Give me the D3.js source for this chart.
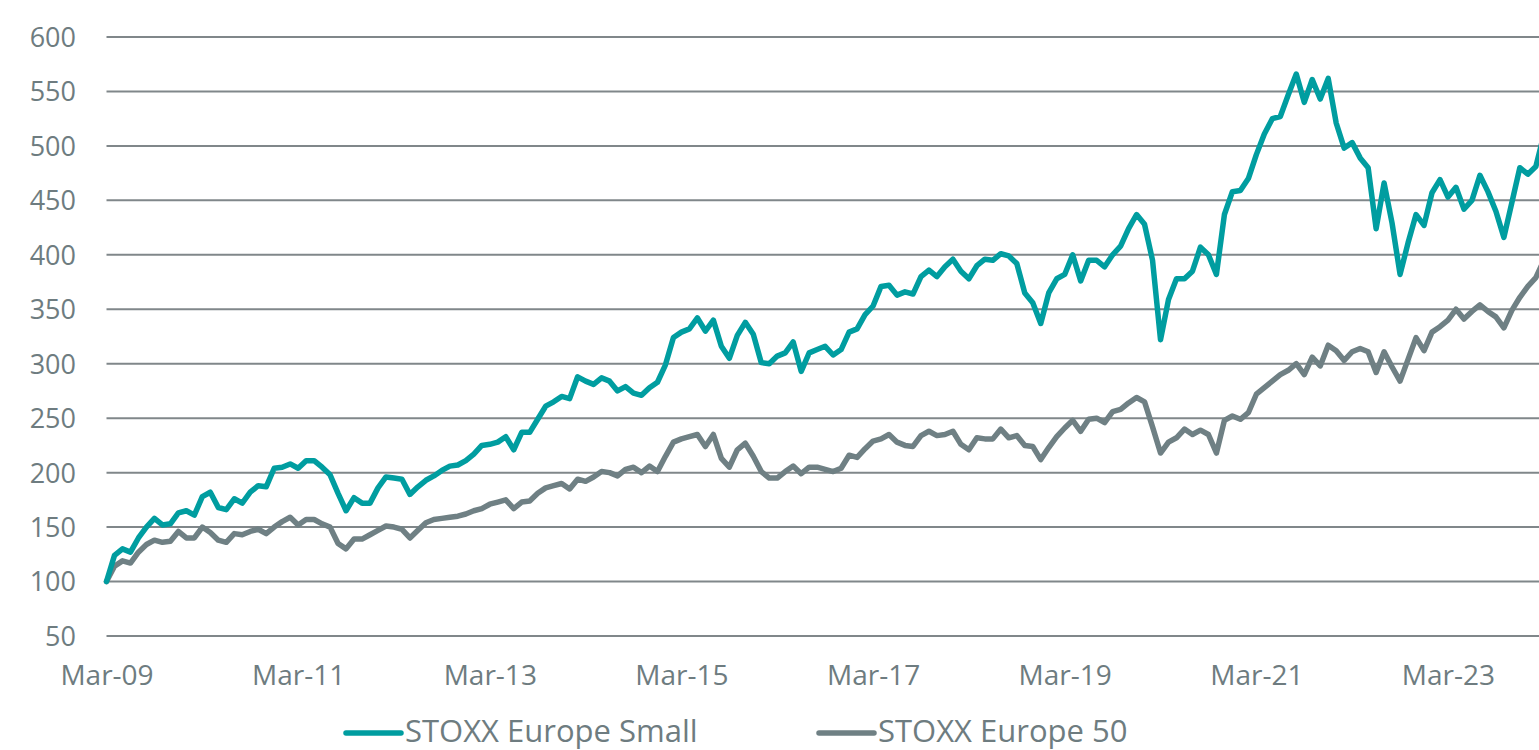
<!DOCTYPE html>
<html>
<head>
<meta charset="utf-8">
<script src="https://cdn.jsdelivr.net/npm/d3@7"></script>
<style>
  html, body { margin: 0; padding: 0; background: #ffffff; overflow: hidden; }
  svg { display: block; }
  text { font-family: "Open Sans", "Noto Sans", sans-serif; fill: #6E7C80; }
</style>
</head>
<body>
<svg id="chart" width="1539" height="750"></svg>
<script>
// ---- Data (monthly, Mar-09 onwards, rebased to 100) ----
const seriesNames = ["STOXX Europe Small", "STOXX Europe 50"];
const seriesColors = ["#009DA0", "#6F8084"];

const smallCap = [
  100,124,130,127,140,150,158,152,153,163,165,161,178,182,168,166,176,172,182,188,
  187,204,205,208,204,211,211,205,198,181,165,177,172,172,186,196,195,194,180,187,
  193,197,202,206,207,211,217,225,226,228,233,221,237,237,249,261,265,270,268,288,
  284,281,287,284,275,279,273,271,278,283,299,324,329,332,342,330,340,316,305,326,
  338,327,301,300,307,310,320,293,310,313,316,308,313,329,332,345,353,371,372,363,
  366,364,380,386,380,389,396,385,378,390,396,395,401,399,392,365,356,337,365,378,
  382,400,376,395,395,389,400,408,424,437,428,395,322,359,378,378,385,407,400,382,
  437,458,459,470,492,511,525,527,547,566,540,561,543,562,521,498,503,489,480,424,
  466,429,382,411,437,427,457,469,453,462,442,450,473,458,440,416,448,480,474,481,
  510
];

const europe50 = [
  100,114,119,117,127,134,138,136,137,146,140,140,150,145,138,136,144,143,146,148,
  144,150,155,159,152,157,157,153,150,135,130,139,139,143,147,151,150,148,140,147,
  154,157,158,159,160,162,165,167,171,173,175,167,173,174,181,186,188,190,185,194,
  192,196,201,200,197,203,205,200,206,201,215,228,231,233,235,224,235,213,205,221,
  227,215,201,195,195,201,206,199,205,205,203,201,204,216,214,222,229,231,235,228,
  225,224,234,238,234,235,238,226,221,232,231,231,240,232,234,225,224,212,223,233,
  241,248,238,249,250,246,256,258,264,269,265,242,218,228,232,240,235,239,235,218,
  248,252,249,255,272,278,284,290,294,300,290,306,298,317,312,303,311,314,311,292,
  311,297,284,304,324,312,329,334,340,350,341,348,354,348,343,333,349,361,371,379,
  395
];

const tickLabels = ["Mar-09","Mar-11","Mar-13","Mar-15","Mar-17","Mar-19","Mar-21","Mar-23"];
const yTicks = [50,100,150,200,250,300,350,400,450,500,550,600];

// categories: month labels starting Mar-09
const fmt = d3.timeFormat("%b-%y");
const categories = d3.range(smallCap.length).map(i => fmt(new Date(2009, 2 + i, 1)));

// ---- Layout ----
const svg = d3.select("#chart");
const plotLeft = 106.5, plotRight = 1539, monthStep = 7.985;
const x = d3.scalePoint()
  .domain(categories)
  .range([plotLeft, plotLeft + monthStep * (categories.length - 1)]);
const y = d3.scaleLinear().domain([50, 600]).range([636, 37]);

// gridlines
svg.append("g")
  .selectAll("line")
  .data(yTicks)
  .join("line")
  .attr("x1", plotLeft)
  .attr("x2", plotRight)
  .attr("y1", d => y(d))
  .attr("y2", d => y(d))
  .attr("stroke", "#80878A")
  .attr("stroke-width", 2);

// y axis labels
const yAxis = d3.axisLeft(y).tickValues(yTicks).tickSize(0).tickPadding(0);
const gy = svg.append("g").attr("transform", "translate(76,0)").call(yAxis);
gy.select(".domain").remove();
gy.selectAll("text")
  .attr("font-size", 27)
  .attr("dy", "0.35em")
  .attr("fill", "#6E7C80")
  .style("font-family", "'Open Sans', sans-serif");

// x axis labels
const xAxis = d3.axisBottom(x).tickValues(tickLabels).tickSize(0).tickPadding(0);
const gx = svg.append("g").attr("transform", "translate(0,665)").call(xAxis);
gx.select(".domain").remove();
gx.selectAll("text")
  .attr("font-size", 28)
  .attr("dy", "0.72em")
  .attr("fill", "#6E7C80")
  .style("font-family", "'Open Sans', sans-serif");

// lines
const line = d3.line()
  .x((d, i) => x(categories[i]))
  .y(d => y(d));

[europe50, smallCap].forEach((s, k) => {
  const idx = k === 0 ? 1 : 0;
  svg.append("path")
    .datum(s)
    .attr("fill", "none")
    .attr("stroke", seriesColors[idx])
    .attr("stroke-width", 5.5)
    .attr("stroke-linejoin", "round")
    .attr("stroke-linecap", "round")
    .attr("d", line);
});

// legend
const legendX = [346, 819];
const legend = svg.append("g");
seriesNames.forEach((name, i) => {
  const g = legend.append("g").attr("transform", `translate(${legendX[i]},733)`);
  g.append("line")
    .attr("x1", 0).attr("x2", 55)
    .attr("y1", 0).attr("y2", 0)
    .attr("stroke", seriesColors[i])
    .attr("stroke-width", 5.5)
    .attr("stroke-linecap", "round");
  g.append("text")
    .attr("x", 59)
    .attr("y", 8.5)
    .attr("font-size", 31)
    .text(name);
});
</script>
</body>
</html>
